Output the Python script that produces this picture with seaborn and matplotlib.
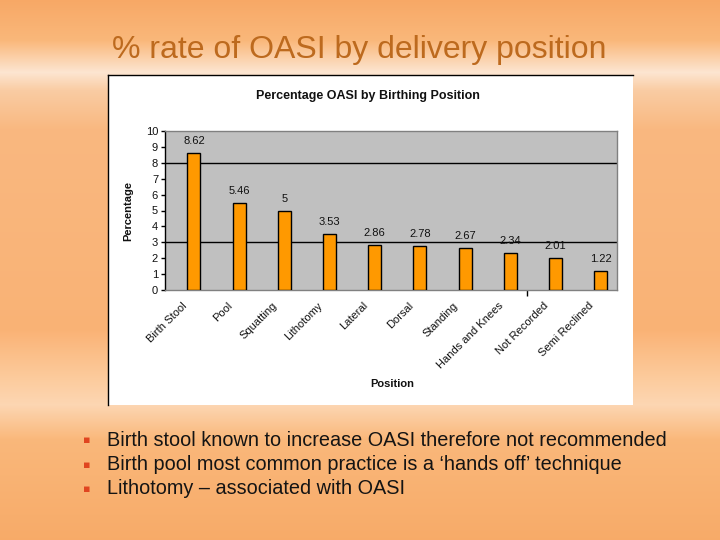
import numpy as np
import matplotlib
matplotlib.use("Agg")
import matplotlib.pyplot as plt
import matplotlib.transforms as mtransforms
import seaborn as sns

positions = ["Birth Stool", "Pool", "Squatting", "Lithotomy", "Lateral", "Dorsal",
             "Standing", "Hands and Knees", "Not Recorded", "Semi Reclined"]
values = [8.62, 5.46, 5, 3.53, 2.86, 2.78, 2.67, 2.34, 2.01, 1.22]
value_labels = ["8.62", "5.46", "5", "3.53", "2.86", "2.78", "2.67", "2.34", "2.01", "1.22"]
y_ticks = list(range(0, 11))
slide_title = "% rate of OASI by delivery position"
chart_title = "Percentage OASI by Birthing Position"
bullets = ["Birth stool known to increase OASI therefore not recommended",
           "Birth pool most common practice is a \u2018hands off\u2019 technique",
           "Lithotomy \u2013 associated with OASI"]

sns.set_theme(style="white")
plt.rcParams['font.family'] = ['Liberation Sans', 'DejaVu Sans']

W, H = 720, 540
fig = plt.figure(figsize=(7.2, 5.4), dpi=100)

def fx(x):
    return x / W

def fy(y):
    return 1 - y / H

# background gradient
bg = fig.add_axes([0, 0, 1, 1], zorder=-5)
rows = np.linspace(0, 540, 540)
stops_y = [0, 40, 72, 90, 130, 330, 380, 405, 440, 540]
stops_c = [(0.97, 0.66, 0.40), (0.98, 0.72, 0.48), (0.99, 0.90, 0.82), (0.98, 0.80, 0.64),
           (0.98, 0.72, 0.50), (0.98, 0.70, 0.46), (0.99, 0.80, 0.62), (0.99, 0.84, 0.70),
           (0.98, 0.72, 0.48), (0.97, 0.67, 0.41)]
stops_c = np.array(stops_c)
grad = np.stack([np.interp(rows, stops_y, stops_c[:, k]) for k in range(3)], axis=-1)
img = np.repeat(grad[:, None, :], 4, axis=1)
bg.imshow(img, aspect='auto', extent=[0, 1, 0, 1])
bg.set_axis_off()

# slide title
fig.text(fx(359), fy(50), slide_title, ha='center', va='center', fontsize=23,
         color='#bd6a1e')

# chart box
box = fig.add_axes([fx(108), fy(405), fx(633 - 108), (405 - 75) / H], zorder=0)
box.set_facecolor('white')
box.set_xticks([]); box.set_yticks([])
for s in ['right', 'bottom']:
    box.spines[s].set_visible(False)
for s in ['left', 'top']:
    box.spines[s].set_visible(True)
    box.spines[s].set_color('black')
    box.spines[s].set_linewidth(1)

# plot area
ax = fig.add_axes([fx(165), fy(290), fx(617 - 165), (290 - 131) / H], zorder=1)
ax.set_facecolor('#c0c0c0')
sns.barplot(x=positions, y=values, color='#FF9900', edgecolor='black', linewidth=1,
            width=0.29, saturation=1, ax=ax, zorder=3)
ax.set_xlim(-0.64, 9.36)
ax.set_ylim(0, 10)
ax.set_yticks(y_ticks)
ax.set_yticklabels([str(t) for t in y_ticks], fontsize=8, color='#111111')
for g in (3, 8):
    ax.axhline(g, color='black', lw=1, zorder=2)
ax.bar_label(ax.containers[0], labels=value_labels, padding=5, fontsize=8, color='#111111')
for s in ['top', 'right', 'bottom']:
    ax.spines[s].set_color('#808080')
    ax.spines[s].set_linewidth(1)
ax.spines['left'].set_color('black')
ax.spines['left'].set_linewidth(1)
ax.tick_params(axis='y', left=True, length=3, width=1, color='black', pad=2)
ax.set_xticks(range(len(positions)))
ax.set_xticks([7.37], minor=True)
ax.tick_params(axis='x', which='major', bottom=False, length=0, pad=4)
ax.tick_params(axis='x', which='minor', bottom=True, length=4, width=1, color='black')
ax.set_xticklabels(positions, rotation=45, ha='right', rotation_mode='anchor',
                   fontsize=8, color='#111111')
offset = mtransforms.ScaledTranslation(-12 / 100, -5 / 100, fig.dpi_scale_trans)
for lab in ax.get_xticklabels():
    lab.set_transform(lab.get_transform() + offset)
ax.set_xlabel('')
ax.set_ylabel('')

fig.text(fx(368), fy(96), chart_title, ha='center', va='center', fontsize=9,
         fontweight='bold', color='#111111')
fig.text(fx(128), fy(211), "Percentage", ha='center', va='center', rotation=90,
         fontsize=8, fontweight='bold', color='#111111')
fig.text(fx(392), fy(384), "Position", ha='center', va='center', fontsize=8,
         fontweight='bold', color='#111111')

# bullets
for i, b in enumerate(bullets):
    yy = 440 + i * 24.5
    fig.text(fx(87), fy(yy), "\u25aa", ha='center', va='center', fontsize=8,
             color='#e04520', family='DejaVu Sans')
    fig.text(fx(107), fy(yy), b, ha='left', va='center', fontsize=14.3, color='#141414')

fig.savefig('out.png', dpi=100)
